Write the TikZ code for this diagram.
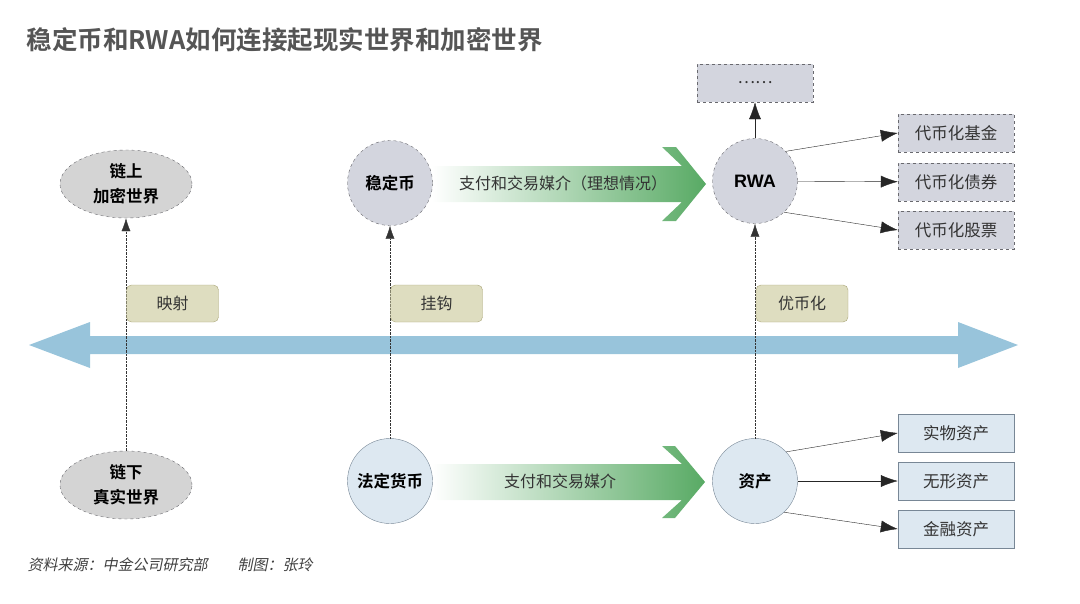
\documentclass[tikz,border=0pt]{standalone}
\usepackage{fontspec}
\setmainfont{Noto Sans CJK SC}[BoldFont={Noto Sans CJK SC Bold}]
\newfontfamily\notefont{Noto Sans CJK SC}[FakeSlant=0.2]
\newfontfamily\latinfont{Liberation Sans}
\usetikzlibrary{arrows.meta,shapes.geometric}

\definecolor{titlegray}{RGB}{85,85,85}
\definecolor{worldgray}{RGB}{212,212,212}
\definecolor{coingray}{RGB}{211,213,222}
\definecolor{fiatblue}{RGB}{221,232,241}
\definecolor{tagfill}{RGB}{222,221,192}
\definecolor{tagline}{RGB}{170,165,120}
\definecolor{bandblue}{RGB}{152,196,219}
\definecolor{flowgreen}{RGB}{88,170,100}
\definecolor{edgegray}{RGB}{105,105,110}
\definecolor{assetline}{RGB}{120,135,150}

\tikzset{
  world/.style={ellipse, draw=edgegray, dashed, fill=worldgray, minimum width=132pt,
    minimum height=68pt, inner sep=0pt, align=center,
    font=\fontsize{16.5}{25}\selectfont\bfseries},
  coin/.style={circle, draw=edgegray, dashed, fill=coingray, minimum size=85pt,
    inner sep=0pt, font=\fontsize{16.5}{20}\selectfont\bfseries},
  fiat/.style={circle, draw=assetline, fill=fiatblue, minimum size=85pt,
    inner sep=0pt, font=\fontsize{16.5}{20}\selectfont\bfseries},
  tokbox/.style={rectangle, draw=edgegray, dashed, fill=coingray, minimum width=116pt,
    minimum height=38pt, font=\fontsize{16.5}{20}\selectfont, text=black!80},
  assetbox/.style={rectangle, draw=assetline, fill=fiatblue, minimum width=116pt,
    minimum height=38pt, font=\fontsize{16.5}{20}\selectfont, text=black!80},
  tag/.style={rectangle, rounded corners=5pt, draw=tagline, fill=tagfill,
    minimum width=92pt, minimum height=37pt, font=\fontsize{16}{20}\selectfont, text=black!80},
  link/.style={densely dotted, draw=black!80, -{Latex[length=13pt,width=9pt]}},
  flow/.style={draw=black!85, -{Latex[length=17pt,width=12pt]}}
}

\begin{document}
\begin{tikzpicture}[x=1pt,y=-1pt]
\useasboundingbox (0,0) rectangle (1080,603);

% title
\node[anchor=west, text=titlegray, font=\fontsize{25.5}{28}\selectfont\bfseries] (title) at (23,40)
  {稳定币和RWA如何连接起现实世界和加密世界};

% blue double arrow
\fill[bandblue] (29,345) -- (90,322) -- (90,336) -- (958,336) -- (958,322) -- (1018,345)
  -- (958,368) -- (958,354) -- (90,354) -- (90,368) -- cycle;

% green arrows
\shade[left color=white, middle color=flowgreen!50, right color=flowgreen] (432,166) -- (682,166)
  -- (662,147) -- (676,147) -- (706,184) -- (676,221) -- (662,221) -- (682,202) -- (432,202) -- cycle;
\shade[left color=white, middle color=flowgreen!50, right color=flowgreen] (432,464) -- (682,464)
  -- (662,446) -- (675,446) -- (705,482) -- (675,518) -- (662,518) -- (682,500) -- (432,500) -- cycle;

% worlds
\node[world] (onchain) at (126,184) {链上\\加密世界};
\node[world] (offchain) at (126,485) {链下\\真实世界};

% coins
\node[coin] (stable) at (390,183) {稳定币};
\node[fiat] (fiatmoney) at (390,481) {法定货币};
\node[coin, font=\fontsize{18}{20}\selectfont\latinfont\bfseries] (rwa) at (755,181) {RWA};
\node[fiat] (asset) at (755,481) {资产};

% flow labels
\node[font=\fontsize{16}{20}\selectfont, text=black!80] (idealpay) at (563,183) {支付和交易媒介（理想情况）};
\node[font=\fontsize{16}{20}\selectfont, text=black!80] (pay) at (560,481) {支付和交易媒介};

% token boxes
\node[tokbox] (more) at (755,83) {……};
\node[tokbox] (fund) at (956,133) {代币化基金};
\node[tokbox] (bond) at (956,182) {代币化债券};
\node[tokbox] (stock) at (956,230) {代币化股票};

% asset boxes
\node[assetbox] (physical) at (956,433) {实物资产};
\node[assetbox] (intangible) at (956,481) {无形资产};
\node[assetbox] (financial) at (956,529) {金融资产};

% links
\draw[link] (offchain) -- (onchain);
\draw[link] (fiatmoney) -- (stable);
\draw[link] (asset) -- (rwa);

% tags
\node[tag] (mapping) at (172.5,303.5) {映射};
\node[tag] (peg) at (436.5,303.5) {挂钩};
\node[tag] (tokenize) at (802,303.5) {优币化};

% arrows
\draw[flow] (rwa) -- (more);
\draw[flow] (rwa.44) -- (fund.west);
\draw[flow] (rwa) -- (bond);
\draw[flow] (rwa.-47) -- (stock.west);
\draw[flow] (asset.43) -- (physical.west);
\draw[flow] (asset) -- (intangible);
\draw[flow] (asset.-47) -- (financial.west);

% source
\node[anchor=west, font=\notefont\fontsize{15}{18}\selectfont, text=black!75] (source) at (24,565)
  {资料来源：中金公司研究部\hspace{30pt}制图：张玲};
\end{tikzpicture}
\end{document}
